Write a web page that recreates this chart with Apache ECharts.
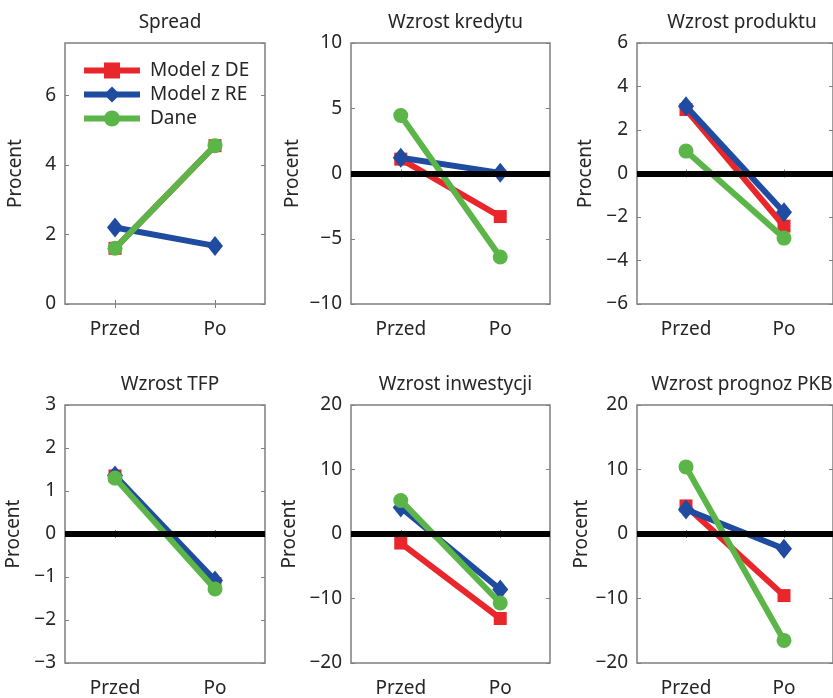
<!DOCTYPE html>
<html>
<head>
<meta charset="utf-8">
<script src="https://cdn.jsdelivr.net/npm/echarts@6/dist/echarts.min.js"></script>
<style>
html,body{margin:0;padding:0;background:#fff;}
#c{width:833px;height:698px;}
</style>
</head>
<body>
<div id="c"></div>
<script>
// ---- data ----
const categories = ['Przed', 'Po'];
const panelTitles = ['Spread', 'Wzrost kredytu', 'Wzrost produktu', 'Wzrost TFP', 'Wzrost inwestycji', 'Wzrost prognoz PKB'];
const seriesNames = ['Model z DE', 'Model z RE', 'Dane'];
// values per panel: [Przed, Po]
const modelDE = [[1.6, 4.55], [1.1, -3.3], [2.94, -2.42], [1.35, -1.15], [-1.4, -13.1], [4.35, -9.55]];
const modelRE = [[2.2, 1.67], [1.2, 0.05], [3.09, -1.78], [1.36, -1.08], [4.1, -8.6], [3.8, -2.3]];
const dane    = [[1.6, 4.55], [4.44, -6.4], [1.03, -2.97], [1.3, -1.28], [5.2, -10.7], [10.4, -16.5]];
const yMin = [0, -10, -6, -3, -20, -20];
const yMax = [7.5, 10, 6, 3, 20, 20];
const yStep = [2, 5, 2, 1, 10, 10];
const hasZeroLine = [false, true, true, true, true, true];

// ---- layout / style ----
const colLeft = [65, 351, 637];
const colWidth = [200, 199, 200];
const rowTop = [43, 405];
const gridH = 261;
const nameGaps = [40, 49, 42, 42, 52, 44];
const colors = ['#e8262b', '#1f4ba0', '#5bb548'];
const symbols = ['rect', 'diamond', 'circle'];
const symbolSizes = [13, [16, 20], 15];
const FONT = 'Noto Sans';
const FS = 19;
const TXT = '#262626';
const BOX = '#7f7f7f';
const fmt = v => String(v).replace('-', '\u2212');

const grids = [], xAxes = [], yAxes = [], series = [], titles = [];
for (let p = 0; p < 6; p++) {
  const r = Math.floor(p / 3), c = p % 3;
  grids.push({left: colLeft[c], top: rowTop[r], width: colWidth[c], height: gridH,
    show: true, borderColor: BOX, borderWidth: 1.5, backgroundColor: 'transparent', containLabel: false});
  titles.push({text: panelTitles[p], left: colLeft[c] + colWidth[c] / 2, top: rowTop[r] - 35,
    textAlign: 'center', textStyle: {fontFamily: FONT, fontSize: FS, fontWeight: 'normal', color: TXT}});
  // bottom x axis
  xAxes.push({type: 'category', gridIndex: p, data: categories, boundaryGap: true, position: 'bottom',
    axisLine: {show: false}, axisTick: {show: true, inside: true, alignWithLabel: true, length: 4, lineStyle: {color: BOX}},
    axisLabel: {fontFamily: FONT, fontSize: FS, color: TXT, margin: 16}, splitLine: {show: false}});
  // top x axis (ticks only)
  xAxes.push({type: 'category', gridIndex: p, data: categories, boundaryGap: true, position: 'top',
    axisLine: {show: false}, axisTick: {show: true, inside: true, alignWithLabel: true, length: 4, lineStyle: {color: BOX}},
    axisLabel: {show: false}, splitLine: {show: false}});
  yAxes.push({type: 'value', gridIndex: p, min: yMin[p], max: yMax[p], interval: yStep[p], position: 'left',
    name: 'Procent', nameLocation: 'middle', nameGap: nameGaps[p],
    nameTextStyle: {fontFamily: FONT, fontSize: FS, color: TXT},
    axisLine: {show: false}, axisTick: {show: true, inside: true, length: 4, lineStyle: {color: BOX}},
    axisLabel: {fontFamily: FONT, fontSize: FS, color: TXT, margin: 9, formatter: fmt, showMaxLabel: p === 0 ? false : true},
    splitLine: {show: false}});
  yAxes.push({type: 'value', gridIndex: p, min: yMin[p], max: yMax[p], interval: yStep[p], position: 'right',
    axisLine: {show: false}, axisTick: {show: true, inside: true, length: 4, lineStyle: {color: BOX}},
    axisLabel: {show: false}, splitLine: {show: false}});
  if (hasZeroLine[p]) {
    series.push({type: 'line', xAxisIndex: 2 * p, yAxisIndex: 2 * p, data: [], z: 1, silent: true,
      markLine: {silent: true, symbol: 'none', label: {show: false}, animation: false,
        lineStyle: {color: '#000', width: 6, type: 'solid'}, data: [{yAxis: 0}]}});
  }
  const sets = [modelDE[p], modelRE[p], dane[p]];
  for (let s = 0; s < 3; s++) {
    series.push({type: 'line', name: seriesNames[s], xAxisIndex: 2 * p, yAxisIndex: 2 * p,
      data: sets[s], z: 2 + s, symbol: symbols[s], symbolSize: symbolSizes[s], showAllSymbol: true,
      lineStyle: {color: colors[s], width: 6}, itemStyle: {color: colors[s]}, animation: false});
  }
}

const chart = echarts.init(document.getElementById('c'));
chart.setOption({
  backgroundColor: '#fff',
  animation: false,
  title: titles,
  legend: {data: seriesNames, orient: 'vertical', left: 81, top: 61, padding: 0, itemWidth: 56, itemHeight: 20, itemGap: 5,
    lineStyle: {width: 6}, textStyle: {fontFamily: FONT, fontSize: FS, color: TXT, padding: [0, 0, 0, 5]}, selectedMode: false},
  grid: grids, xAxis: xAxes, yAxis: yAxes, series: series
});
</script>
</body>
</html>
